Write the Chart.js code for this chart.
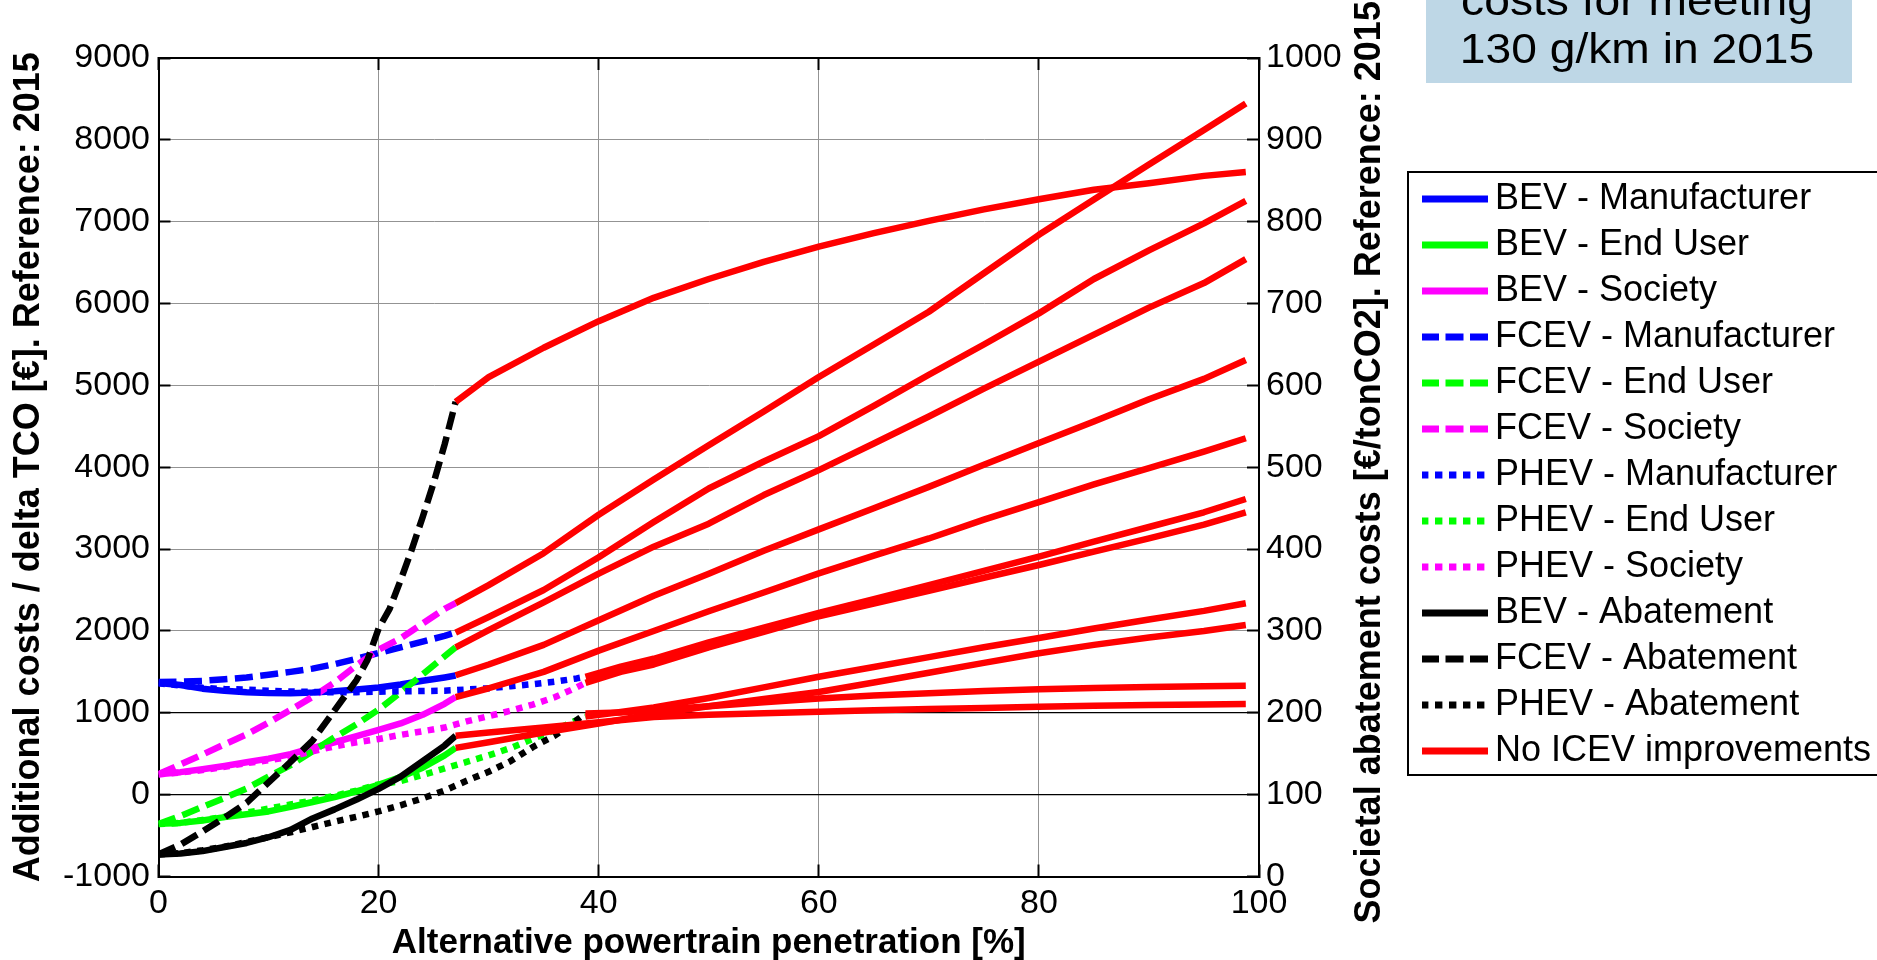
<!DOCTYPE html>
<html>
<head>
<meta charset="utf-8">
<script src="https://cdn.jsdelivr.net/npm/chart.js@4.4.1/dist/chart.umd.min.js"></script>
<style>
html,body{margin:0;padding:0;background:#ffffff;}
#wrap{width:1877px;height:960px;position:relative;background:#ffffff;}
</style>
</head>
<body>
<div id="wrap"><canvas id="c" width="1877" height="960"></canvas></div>
<script>
// ---------------- DATA ----------------
// x positions (alternative powertrain penetration, %)
const xBevFcev = [0, 2, 4, 6, 8, 10, 12, 14, 16, 18, 20, 22, 24, 26, 27];
const xFcevAbatement = [0, 2, 4, 6, 8, 10, 12, 14, 16, 18, 19, 20, 21, 22, 23, 24, 25, 26, 27];
const xPhev = [0, 2, 4, 6, 8, 10, 12, 14, 16, 18, 20, 22, 24, 26, 28, 30, 32, 34, 36, 38, 38.8];
const xRedFrom27 = [27, 30, 35, 40, 45, 50, 55, 60, 65, 70, 75, 80, 85, 90, 95, 98.8];
const xRedFrom39 = [38.8, 42, 45, 50, 55, 60, 65, 70, 75, 80, 85, 90, 95, 98.8];

// left axis: additional costs / delta TCO [EUR]
const bevManufacturer  = [1365, 1340, 1295, 1268, 1252, 1242, 1240, 1248, 1262, 1285, 1310, 1345, 1392, 1432, 1455];
const bevEndUser       = [-355, -345, -315, -275, -240, -205, -150, -90, -30, 40, 120, 215, 330, 480, 572];
const bevSociety       = [250, 275, 310, 350, 395, 440, 495, 570, 640, 715, 790, 870, 975, 1110, 1192];
const fcevManufacturer = [1375, 1380, 1390, 1410, 1432, 1465, 1500, 1540, 1595, 1660, 1730, 1800, 1870, 1940, 1980];
const fcevEndUser      = [-360, -260, -150, -40, 75, 220, 360, 530, 700, 860, 1040, 1250, 1470, 1690, 1800];
const fcevSociety      = [250, 370, 490, 615, 735, 880, 1035, 1195, 1370, 1580, 1770, 1910, 2090, 2270, 2340];
const phevManufacturer = [1360, 1335, 1305, 1290, 1283, 1270, 1260, 1255, 1250, 1252, 1258, 1263, 1266, 1270, 1285, 1300, 1325, 1350, 1380, 1420, 1440];
const phevEndUser      = [-360, -345, -310, -270, -220, -170, -120, -70, -15, 50, 125, 165, 240, 320, 400, 480, 570, 680, 790, 910, 955];
const phevSociety      = [250, 270, 300, 340, 385, 420, 465, 530, 590, 640, 680, 730, 775, 820, 895, 960, 1025, 1100, 1190, 1310, 1365];

// right axis: societal abatement costs [EUR/tonCO2]
const bevAbatement  = [27, 28, 31, 36, 41, 48, 57, 71, 82, 94, 107, 122, 141, 160, 172];
const fcevAbatement = [27, 39, 55, 72, 90, 115, 140, 166, 203, 240, 265, 303, 327, 362, 399, 439, 481, 528, 580];
const phevAbatement = [27, 28.5, 32, 36.5, 42, 48, 54, 60.5, 67, 73, 79.5, 87, 95.5, 105, 117, 128, 141, 158, 172, 191, 199];

// "No ICEV improvements" continuations
const noImpBevManufacturer  = [1459, 1590, 1830, 2130, 2430, 2700, 2980, 3241, 3500, 3760, 4030, 4296, 4560, 4830, 5080, 5310];
const noImpBevEndUser       = [572, 640, 760, 870, 985, 1080, 1170, 1255, 1370, 1490, 1610, 1727, 1830, 1920, 2000, 2073];
const noImpBevSociety       = [1192, 1300, 1500, 1760, 2000, 2240, 2470, 2704, 2920, 3130, 3360, 3575, 3790, 3990, 4190, 4354];
const noImpFcevManufacturer = [1980, 2170, 2500, 2900, 3330, 3740, 4070, 4380, 4750, 5130, 5500, 5880, 6300, 6650, 6980, 7254];
const noImpFcevEndUser      = [1800, 2010, 2350, 2700, 3030, 3310, 3660, 3965, 4290, 4620, 4960, 5290, 5620, 5950, 6250, 6542];
const noImpFcevSociety      = [2340, 2560, 2950, 3420, 3850, 4270, 4680, 5103, 5500, 5900, 6370, 6840, 7270, 7700, 8120, 8445];
const noImpPhevManufacturer = [1440, 1565, 1660, 1860, 2040, 2220, 2390, 2560, 2735, 2907, 3090, 3270, 3450, 3612];
const noImpPhevEndUser      = [955, 1010, 1065, 1180, 1310, 1441, 1560, 1680, 1800, 1914, 2030, 2140, 2245, 2338];
const noImpPhevSociety      = [1365, 1500, 1590, 1800, 1990, 2180, 2335, 2490, 2650, 2806, 2970, 3130, 3300, 3450];
const noImpBevAbatement     = [172, 176, 182, 188.5, 195, 197.5, 199.5, 201.4, 203, 204.5, 206, 207.5, 208.5, 209.5, 210.2, 210.7];
const noImpFcevAbatement    = [580, 610, 646, 678.5, 707, 730, 751, 769.6, 786, 801, 815, 827.5, 839, 847, 856, 860.6];
const noImpPhevAbatement    = [199, 200.5, 203, 208, 213, 217.5, 221, 224, 226.5, 228.7, 230.3, 231.5, 232.5, 233.1];

// axis ranges / ticks
const xRange = [0, 100], xStep = 20;
const leftRange = [-1000, 9000], leftStep = 1000;
const rightRange = [0, 1000], rightStep = 100;

// texts
const leftAxisTitle = 'Additional costs / delta TCO [€]. Reference: 2015';
const rightAxisTitle = 'Societal abatement costs [€/tonCO2]. Reference: 2015';
const xAxisTitle = 'Alternative powertrain penetration [%]';
const boxLines = ['costs for meeting', '130 g/km in 2015'];
const redLabel = 'No ICEV improvements';

// ---------------- STYLE ----------------
const FONT = "'Liberation Sans', Arial, Helvetica, sans-serif";
const BLUE = '#0000ff', GREEN = '#00ff00', MAGENTA = '#ff00ff', BLACK = '#000000', RED = '#ff0000';
const SOLID = [], DASH = [18, 7.5], DOT = [6.5, 6.5];
const LEGEND_DASH = [18, 6.5], LEGEND_DOT = [7.4, 6.6];

const series = [
  {label: 'BEV - Manufacturer',  xs: xBevFcev, ys: bevManufacturer,  color: BLUE,    dash: SOLID, axis: 'y'},
  {label: 'BEV - End User',      xs: xBevFcev, ys: bevEndUser,       color: GREEN,   dash: SOLID, axis: 'y'},
  {label: 'BEV - Society',       xs: xBevFcev, ys: bevSociety,       color: MAGENTA, dash: SOLID, axis: 'y'},
  {label: 'FCEV - Manufacturer', xs: xBevFcev, ys: fcevManufacturer, color: BLUE,    dash: DASH,  axis: 'y'},
  {label: 'FCEV - End User',     xs: xBevFcev, ys: fcevEndUser,      color: GREEN,   dash: DASH,  axis: 'y'},
  {label: 'FCEV - Society',      xs: xBevFcev, ys: fcevSociety,      color: MAGENTA, dash: DASH,  axis: 'y'},
  {label: 'PHEV - Manufacturer', xs: xPhev,    ys: phevManufacturer, color: BLUE,    dash: DOT,   axis: 'y'},
  {label: 'PHEV - End User',     xs: xPhev,    ys: phevEndUser,      color: GREEN,   dash: DOT,   axis: 'y'},
  {label: 'PHEV - Society',      xs: xPhev,    ys: phevSociety,      color: MAGENTA, dash: DOT,   axis: 'y'},
  {label: 'BEV - Abatement',     xs: xBevFcev, ys: bevAbatement,     color: BLACK,   dash: SOLID, axis: 'y2'},
  {label: 'FCEV - Abatement',    xs: xFcevAbatement, ys: fcevAbatement, color: BLACK, dash: DASH, axis: 'y2'},
  {label: 'PHEV - Abatement',    xs: xPhev,    ys: phevAbatement,    color: BLACK,   dash: DOT,   axis: 'y2'},
  {label: redLabel, xs: xRedFrom27, ys: noImpBevManufacturer,  color: RED, dash: SOLID, axis: 'y'},
  {label: redLabel, xs: xRedFrom27, ys: noImpBevEndUser,       color: RED, dash: SOLID, axis: 'y', hideInLegend: true},
  {label: redLabel, xs: xRedFrom27, ys: noImpBevSociety,       color: RED, dash: SOLID, axis: 'y', hideInLegend: true},
  {label: redLabel, xs: xRedFrom27, ys: noImpFcevManufacturer, color: RED, dash: SOLID, axis: 'y', hideInLegend: true},
  {label: redLabel, xs: xRedFrom27, ys: noImpFcevEndUser,      color: RED, dash: SOLID, axis: 'y', hideInLegend: true},
  {label: redLabel, xs: xRedFrom27, ys: noImpFcevSociety,      color: RED, dash: SOLID, axis: 'y', hideInLegend: true},
  {label: redLabel, xs: xRedFrom39, ys: noImpPhevManufacturer, color: RED, dash: SOLID, axis: 'y', hideInLegend: true},
  {label: redLabel, xs: xRedFrom39, ys: noImpPhevEndUser,      color: RED, dash: SOLID, axis: 'y', hideInLegend: true},
  {label: redLabel, xs: xRedFrom39, ys: noImpPhevSociety,      color: RED, dash: SOLID, axis: 'y', hideInLegend: true},
  {label: redLabel, xs: xRedFrom27, ys: noImpBevAbatement,     color: RED, dash: SOLID, axis: 'y2', hideInLegend: true},
  {label: redLabel, xs: xRedFrom27, ys: noImpFcevAbatement,    color: RED, dash: SOLID, axis: 'y2', hideInLegend: true},
  {label: redLabel, xs: xRedFrom39, ys: noImpPhevAbatement,    color: RED, dash: SOLID, axis: 'y2', hideInLegend: true}
];

const datasets = series.map((s, i) => ({
  label: s.label,
  data: s.xs.map((x, k) => ({x: x, y: s.ys[k]})),
  yAxisID: s.axis,
  borderColor: s.color,
  backgroundColor: s.color,
  borderDash: s.dash,
  borderWidth: 6.5,
  borderCapStyle: 'butt',
  borderJoinStyle: 'round',
  pointRadius: 0,
  tension: 0,
  fill: false,
  order: -i,
  hideInLegend: !!s.hideInLegend
}));

// legend line sample (67 px long, 7 px thick) drawn into a small canvas
function legendSample(color, dash) {
  const cv = document.createElement('canvas');
  cv.width = 67; cv.height = 8;
  const g = cv.getContext('2d');
  g.strokeStyle = color;
  g.lineWidth = 7;
  g.lineCap = 'butt';
  g.setLineDash(dash.length ? (dash[0] > 10 ? LEGEND_DASH : LEGEND_DOT) : []);
  g.beginPath();
  g.moveTo(0, 4);
  g.lineTo(67, 4);
  g.stroke();
  return cv;
}

// ---------------- PLUGINS ----------------
const legendWidthPlugin = {
  id: 'legendWidth',
  beforeLayout(chart) {
    const lg = chart.legend;
    if (lg && !lg.__fixedWidth) {
      const orig = lg.fit;
      lg.fit = function () { orig.call(this); this.width = 455; };
      lg.__fixedWidth = true;
    }
  }
};

const decorPlugin = {
  id: 'decor',
  afterDraw(chart) {
    const ctx = chart.ctx;
    const ca = chart.chartArea;
    // legend frame
    const lg = chart.legend;
    if (lg && lg.legendHitBoxes && lg.legendHitBoxes.length) {
      const hb = lg.legendHitBoxes;
      const top = hb[0].top - 9;
      const last = hb[hb.length - 1];
      const bottom = last.top + last.height + 6;
      ctx.save();
      ctx.strokeStyle = '#000';
      ctx.lineWidth = 2;
      ctx.strokeRect(lg.left - 14, top, 600, bottom - top);
      ctx.restore();
    }
    // right axis title (reads bottom-to-top)
    ctx.save();
    ctx.translate(1370, (ca.top + ca.bottom) / 2 - 5);
    ctx.rotate(-Math.PI / 2);
    ctx.font = 'bold 36px ' + FONT;
    ctx.fillStyle = '#000';
    ctx.textAlign = 'center';
    ctx.textBaseline = 'middle';
    ctx.fillText(rightAxisTitle, 0, 0);
    ctx.restore();
    // annotation box top right
    ctx.save();
    ctx.fillStyle = '#bed7e6';
    ctx.fillRect(1426, -10, 426, 93);
    ctx.fillStyle = '#000';
    ctx.font = '42px ' + FONT;
    ctx.textAlign = 'center';
    ctx.textBaseline = 'alphabetic';
    ctx.translate(1637, 0);
    ctx.scale(1.1, 1);
    boxLines.forEach((t, i) => ctx.fillText(t, 0, 15 + i * 48));
    ctx.restore();
  }
};

const tickFont = {family: FONT, size: 34};
const titleFont = {family: FONT, size: 35, weight: 'bold'};
const frame = {display: true, color: '#000', width: 2};
const plainLabel = (v) => String(v);
const GRID = '#939393';

const config = {
  type: 'line',
  data: {datasets: datasets},
  options: {
    responsive: false,
    animation: false,
    devicePixelRatio: 1,
    events: [],
    layout: {padding: {left: 0, right: 0, top: 0, bottom: 10}},
    plugins: {
      tooltip: {enabled: false},
      title: {display: false},
      legend: {
        display: true,
        position: 'right',
        align: 'center',
        labels: {
          font: {family: FONT, size: 36},
          color: '#000',
          padding: 10,
          usePointStyle: true,
          pointStyleWidth: 45,
          filter: (item, data) => !data.datasets[item.datasetIndex].hideInLegend,
          sort: (a, b) => a.datasetIndex - b.datasetIndex,
          generateLabels: (chart) => {
            const items = Chart.defaults.plugins.legend.labels.generateLabels(chart);
            items.forEach(it => {
              const ds = chart.data.datasets[it.datasetIndex];
              it.pointStyle = legendSample(ds.borderColor, ds.borderDash || []);
              it.lineWidth = 0;
            });
            return items;
          }
        }
      }
    },
    scales: {
      x: {
        type: 'linear', position: 'bottom',
        min: xRange[0], max: xRange[1],
        ticks: {stepSize: xStep, font: tickFont, color: '#000', padding: 19, maxRotation: 0, autoSkip: false, callback: plainLabel},
        grid: {color: GRID, lineWidth: 1, tickLength: -12, tickColor: '#000', tickWidth: 2},
        border: frame,
        title: {display: true, text: xAxisTitle, font: titleFont, color: '#000', padding: {top: 0, bottom: -14}},
        afterFit: (s) => { s.height = 73.5; }
      },
      x2: {
        type: 'linear', position: 'top',
        min: xRange[0], max: xRange[1],
        ticks: {stepSize: xStep, display: false},
        grid: {drawOnChartArea: false, tickLength: -12, tickColor: '#000', tickWidth: 2},
        border: frame,
        afterFit: (s) => { s.height = 58; }
      },
      y: {
        type: 'linear', position: 'left',
        min: leftRange[0], max: leftRange[1],
        ticks: {stepSize: leftStep, font: tickFont, color: '#000', padding: 20.5, callback: plainLabel},
        grid: {
          color: (c) => (c.tick && (c.tick.value === 0 || c.tick.value === 1000)) ? '#000' : GRID,
          lineWidth: (c) => (c.tick && (c.tick.value === 0 || c.tick.value === 1000)) ? 1.3 : 1,
          tickLength: -12, tickColor: '#000', tickWidth: 2
        },
        border: frame,
        title: {display: true, text: leftAxisTitle, font: {family: FONT, size: 36, weight: 'bold'}, color: '#000', padding: {top: 7.4, bottom: 0}},
        afterFit: (s) => { s.width = 158.5; }
      },
      y2: {
        type: 'linear', position: 'right',
        min: rightRange[0], max: rightRange[1],
        ticks: {stepSize: rightStep, font: tickFont, color: '#000', padding: 19, callback: plainLabel},
        grid: {drawOnChartArea: false, tickLength: -12, tickColor: '#000', tickWidth: 2},
        border: frame,
        title: {display: false},
        afterFit: (s) => { s.width = 163; }
      }
    }
  },
  plugins: [legendWidthPlugin, decorPlugin]
};

new Chart(document.getElementById('c').getContext('2d'), config);
</script>
</body>
</html>
